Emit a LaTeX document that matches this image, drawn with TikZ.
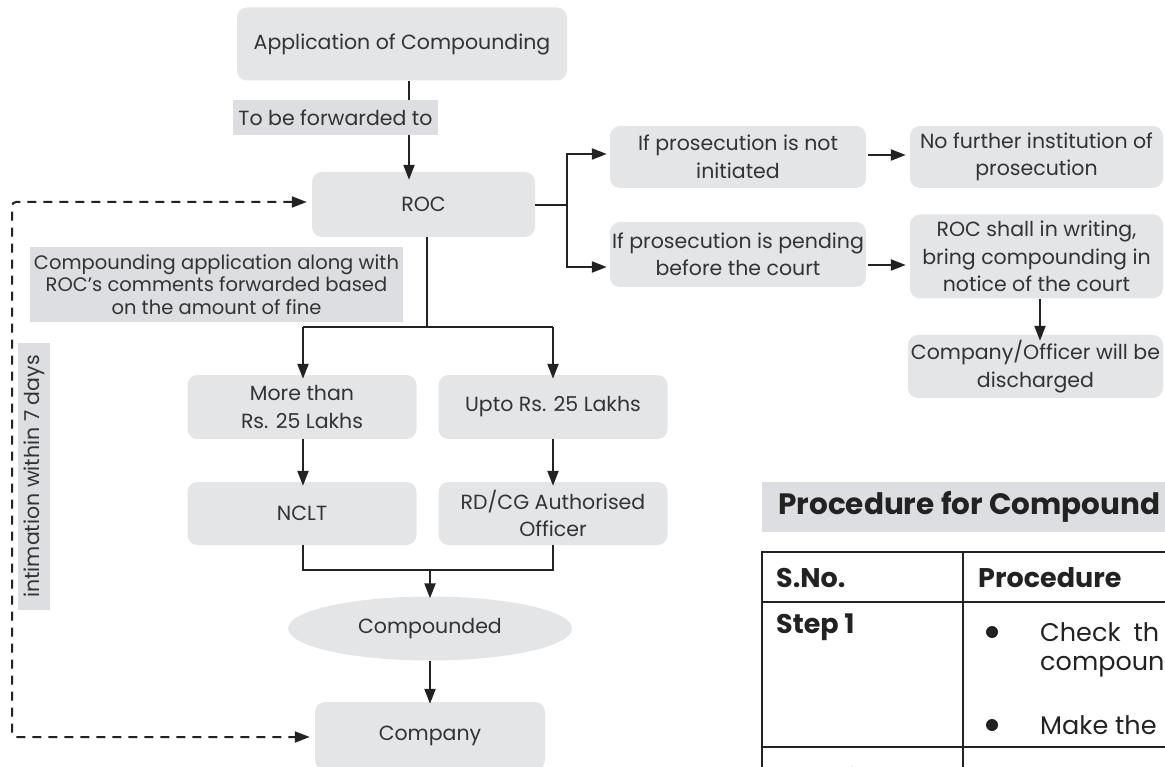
\documentclass[tikz,border=0pt]{standalone}
\usepackage{fontspec}
\setmainfont{Poppins}
\usetikzlibrary{arrows.meta,shapes.geometric}
\definecolor{boxgray}{RGB}{228,229,231}
\definecolor{labgray}{RGB}{221,222,225}
\definecolor{txt}{RGB}{51,51,51}
\definecolor{linec}{RGB}{34,34,34}
\newcommand{\fsz}{\fontsize{20.5}{27.5}\selectfont}
\newcommand{\lsz}{\fontsize{19.5}{22.5}\selectfont}
\begin{document}
\begin{tikzpicture}[x=1pt,y=-1pt,
  fbox/.style={fill=boxgray, rounded corners=10pt, text=txt, align=center, inner sep=0pt, font=\fsz},
  lbl/.style={fill=labgray, text=txt, align=center, inner sep=0pt, font=\lsz},
  ln/.style={line width=2.2pt, draw=linec},
  arr/.style={ln, -{Triangle[length=15pt,width=11pt]}},
  darr/.style={line width=2pt, draw=linec, dash pattern=on 9pt off 7pt, {Triangle[length=15pt,width=11pt]}-{Triangle[length=15pt,width=11pt]}, rounded corners=4pt},
  tline/.style={line width=2.6pt, draw=linec},
  ttxt/.style={anchor=west, inner sep=0pt, text=linec},
]
\useasboundingbox (0,0) rectangle (1165,767);
\clip (0,0) rectangle (1165,767);

% flow nodes
\node[fbox, minimum width=330, minimum height=73] (app) at (402,44) {Application of Compounding};
\node[fbox, minimum width=223, minimum height=65] (roc) at (423.5,204.5) {ROC};
\node[fbox, minimum width=256, minimum height=62] (pnot) at (738,157) {If prosecution is not\\initiated};
\node[fbox, minimum width=256, minimum height=65] (ppend) at (738,254.5) {If prosecution is pending\\before the court};
\node[fbox, minimum width=253, minimum height=62] (nofur) at (1036.5,157) {No further institution of\\prosecution};
\node[fbox, minimum width=253, minimum height=84] (rocw) at (1036.5,256.5) {ROC shall in writing,\\bring compounding in\\notice of the court};
\node[fbox, minimum width=255, minimum height=63] (disc) at (1035.5,366.5) {Company/Officer will be\\discharged};
\node[fbox, minimum width=229, minimum height=64] (more) at (302,407) {More than\\Rs. 25 Lakhs};
\node[fbox, minimum width=229, minimum height=64] (upto) at (553,407) {Upto Rs. 25 Lakhs};
\node[fbox, minimum width=229, minimum height=63] (nclt) at (302,513.5) {NCLT};
\node[fbox, minimum width=229, minimum height=63] (rdcg) at (553,513.5) {RD/CG Authorised\\Officer};
\node[ellipse, fill=boxgray, text=txt, font=\fsz, inner sep=0pt, minimum width=284, minimum height=64] (cmpd) at (430,628.5) {Compounded};
\node[fbox, minimum width=230, minimum height=68] (comp) at (430,736) {Company};

% helper coordinates
\coordinate (fx) at (409,0);
\coordinate (rx) at (567,0);
\coordinate (splity) at (0,327);
\coordinate (mergey) at (0,570);
\coordinate (lx) at (303,0);
\coordinate (rgx) at (553,0);
\coordinate (dx) at (12,0);
\coordinate (ry) at (0,202);
\coordinate (cy) at (0,737);

% connectors
\draw[arr] (app.south -| fx) -- ([yshift=-8pt]roc.north -| fx);
\draw[ln] (roc.east |- 0,205) -- (rx |- 0,205);
\draw[arr] (rx |- 0,205) |- ([xshift=-3pt]pnot.west |- 0,154);
\draw[arr] (rx |- 0,205) |- ([xshift=-3pt]ppend.west |- 0,267);
\draw[arr] ([xshift=2pt]pnot.east |- 0,155) -- ([xshift=-4pt]nofur.west |- 0,155);
\draw[arr] ([xshift=2pt]ppend.east |- 0,265) -- ([xshift=-4pt]rocw.west |- 0,265);
\draw[arr] (rocw.south -| 1040,0) -- ([yshift=-6pt]disc.north -| 1040,0);
\draw[ln] (roc.south -| 427,0) -- (splity -| 427,0);
\draw[ln] (splity -| lx) -- (splity -| rgx);
\draw[arr] (splity -| lx) -- ([yshift=-4pt]more.north -| lx);
\draw[arr] (splity -| rgx) -- ([yshift=-4pt]upto.north -| rgx);
\draw[arr] (more.south -| lx) -- ([yshift=-4pt]nclt.north -| lx);
\draw[arr] (upto.south -| rgx) -- ([yshift=-4pt]rdcg.north -| rgx);
\draw[ln] (nclt.south -| lx) -- (mergey -| lx) -- (mergey -| rgx) -- (rdcg.south -| rgx);
\draw[arr] (mergey -| cmpd.north) -- ([yshift=-2pt]cmpd.north);
\draw[arr] (cmpd.south) -- ([yshift=-2pt]comp.north);
\draw[darr] ([xshift=-5pt]roc.west |- ry) -- (dx |- ry) -- (dx |- cy) -- ([xshift=-5pt]comp.west |- cy);

% labels over connectors
\node[lbl, font=\fsz, minimum width=205, minimum height=35] (fwd) at (335.5,117.5) {To be forwarded to};
\node[lbl, minimum width=373, minimum height=75] (fine) at (216.5,284.5) {Compounding application along with\\ROC’s comments forwarded based\\on the amount of fine};
\node[lbl, font=\fsz, rotate=90, minimum width=267, minimum height=32] (intim) at (34,476.5) {intimation within 7 days};

% table
\node[fill=labgray, anchor=north west, minimum width=420, minimum height=50, inner sep=0pt] (tbg) at (762,482) {};
\node[ttxt, font=\fontsize{29.5}{32}\bfseries] (ttl) at (778,507) {Procedure for Compound};
\draw[tline] (1175,552) -| (762,800);
\draw[tline] (762,602) -- (1175,602);
\draw[tline] (762,747) -- (1175,747);
\draw[tline] (963,552) -- (963,800);
\node[ttxt, font=\fontsize{27}{30}\bfseries] (sno) at (776,578) {S.No.};
\node[ttxt, font=\fontsize{27}{30}\bfseries] (proc) at (978,578) {Procedure};
\node[ttxt, font=\fontsize{27}{30}\bfseries] (s1) at (776,627) {Step 1};
\node[ttxt, font=\fontsize{27}{30}\bfseries] (s2) at (776,781) {Step 2};
\fill[linec] (992,632) circle (6pt);
\fill[linec] (992,725) circle (6pt);
\fill[linec] (992,785) circle (6pt);
\node[ttxt, font=\fontsize{25.5}{30}\selectfont] (c1) at (1040,632) {Check\hspace{13pt}th};
\node[ttxt, font=\fontsize{25.5}{30}\selectfont] (c2) at (1040,667) {compoun};
\node[ttxt, font=\fontsize{25.5}{30}\selectfont] (c3) at (1040,725) {Make the};
\node[ttxt, font=\fontsize{25.5}{30}\selectfont] (c4) at (1040,781) {Before fil};
\end{tikzpicture}
\end{document}
